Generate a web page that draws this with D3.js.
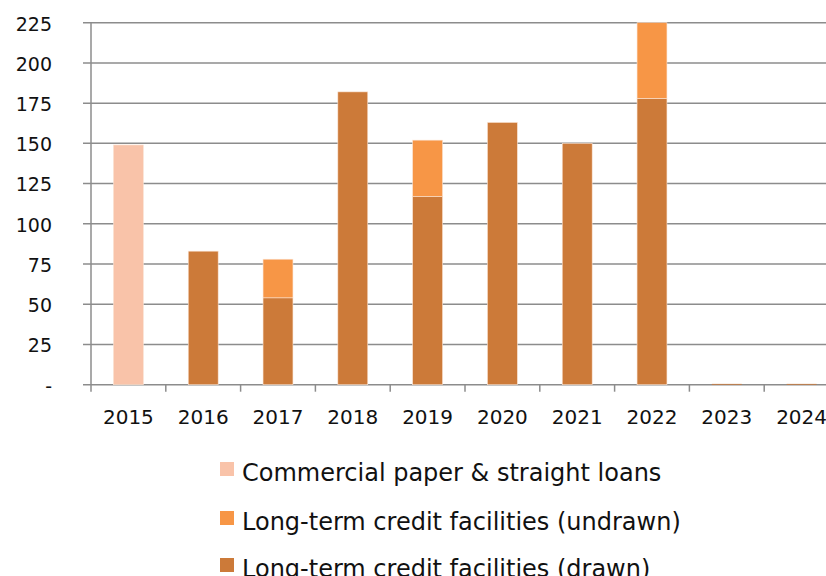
<!DOCTYPE html>
<html>
<head>
<meta charset="utf-8">
<script src="https://cdn.jsdelivr.net/npm/d3@7"></script>
<style>
    body { margin: 0; background: #fff; }
    text { font-family: "DejaVu Sans", sans-serif; fill: #111; }
</style>
</head>
<body>
<svg id="chart" width="826" height="576"></svg>
<script>
const years = ["2015", "2016", "2017", "2018", "2019", "2020", "2021", "2022", "2023", "2024"];
const commercialPaper = [149, 0, 0, 0, 0, 0, 0, 0, 0, 0];
const drawn = [0, 83, 54, 182, 117, 163, 150, 178, 0.5, 0.5];
const undrawn = [0, 0, 24, 0, 35, 0, 0, 47, 0, 0];
const yTicks = [0, 25, 50, 75, 100, 125, 150, 175, 200, 225];

const seriesNames = ["Commercial paper & straight loans", "Long-term credit facilities (undrawn)", "Long-term credit facilities (drawn)"];
const seriesColors = ["#F9C3A9", "#F79646", "#CC7A39"];

const svg = d3.select("#chart");

const margin = { left: 91, top: 22.7, bottom: 384.7 };

const x = d3.scaleBand()
    .domain(years)
    .range([margin.left, margin.left + 74.8 * years.length])
    .paddingInner(0)
    .paddingOuter(0);

const y = d3.scaleLinear()
    .domain([0, 225])
    .range([margin.bottom, margin.top]);

// gridlines
svg.append("g")
    .selectAll("line")
    .data(yTicks)
    .enter().append("line")
    .attr("x1", margin.left - 8)
    .attr("x2", 826)
    .attr("y1", d => y(d))
    .attr("y2", d => y(d))
    .attr("stroke", "#8c8c8c")
    .attr("stroke-width", 1.5);

// y labels
svg.append("g")
    .selectAll("text")
    .data(yTicks)
    .enter().append("text")
    .attr("x", 52)
    .attr("y", d => y(d) + 1)
    .attr("dy", "0.36em")
    .attr("text-anchor", "end")
    .style("font-size", "19px")
    .text(d => d === 0 ? "-" : d);

// stacked bars
const rows = years.map((yr, i) => ({
    year: yr,
    cp: commercialPaper[i],
    drawn: drawn[i],
    undrawn: undrawn[i]
}));

const stack = d3.stack().keys(["cp", "drawn", "undrawn"]);
const stacked = stack(rows);
const colorByKey = { cp: seriesColors[0], undrawn: seriesColors[1], drawn: seriesColors[2] };

const barW = x.bandwidth() * 0.4;

svg.append("g")
    .selectAll("g")
    .data(stacked)
    .enter().append("g")
    .attr("fill", d => colorByKey[d.key])
    .selectAll("rect")
    .data(d => d.filter(p => p[1] - p[0] > 0))
    .enter().append("rect")
    .attr("x", d => x(d.data.year) + (x.bandwidth() - barW) / 2)
    .attr("width", barW)
    .attr("y", d => y(d[1]))
    .attr("height", d => y(d[0]) - y(d[1]))
    .attr("stroke", d => (d[1] - d[0]) < 2 ? "none" : "#fbe3d3")
    .attr("stroke-width", 0.6);

// axes lines
svg.append("line")
    .attr("x1", margin.left).attr("x2", margin.left)
    .attr("y1", margin.top).attr("y2", margin.bottom + 7)
    .attr("stroke", "#8c8c8c").attr("stroke-width", 1.5);

svg.append("g")
    .selectAll("line")
    .data(years.slice(1))
    .enter().append("line")
    .attr("x1", d => x(d)).attr("x2", d => x(d))
    .attr("y1", margin.bottom).attr("y2", margin.bottom + 7)
    .attr("stroke", "#8c8c8c").attr("stroke-width", 1.5);

// x labels
svg.append("g")
    .selectAll("text")
    .data(years)
    .enter().append("text")
    .attr("x", d => x(d) + x.bandwidth() / 2)
    .attr("y", 424)
    .attr("text-anchor", "middle")
    .style("font-size", "20px")
    .text(d => d);

// legend
const legendY = [469, 518, 565];
const legend = svg.append("g")
    .selectAll("g")
    .data(seriesNames)
    .enter().append("g")
    .attr("transform", (d, i) => "translate(220," + legendY[i] + ")");

legend.append("rect")
    .attr("x", 0)
    .attr("y", -7)
    .attr("width", 14)
    .attr("height", 14)
    .attr("fill", (d, i) => seriesColors[i]);

legend.append("text")
    .attr("x", 22)
    .attr("y", 3)
    .attr("dy", "0.36em")
    .style("font-size", "24px")
    .text(d => d);
</script>
</body>
</html>
